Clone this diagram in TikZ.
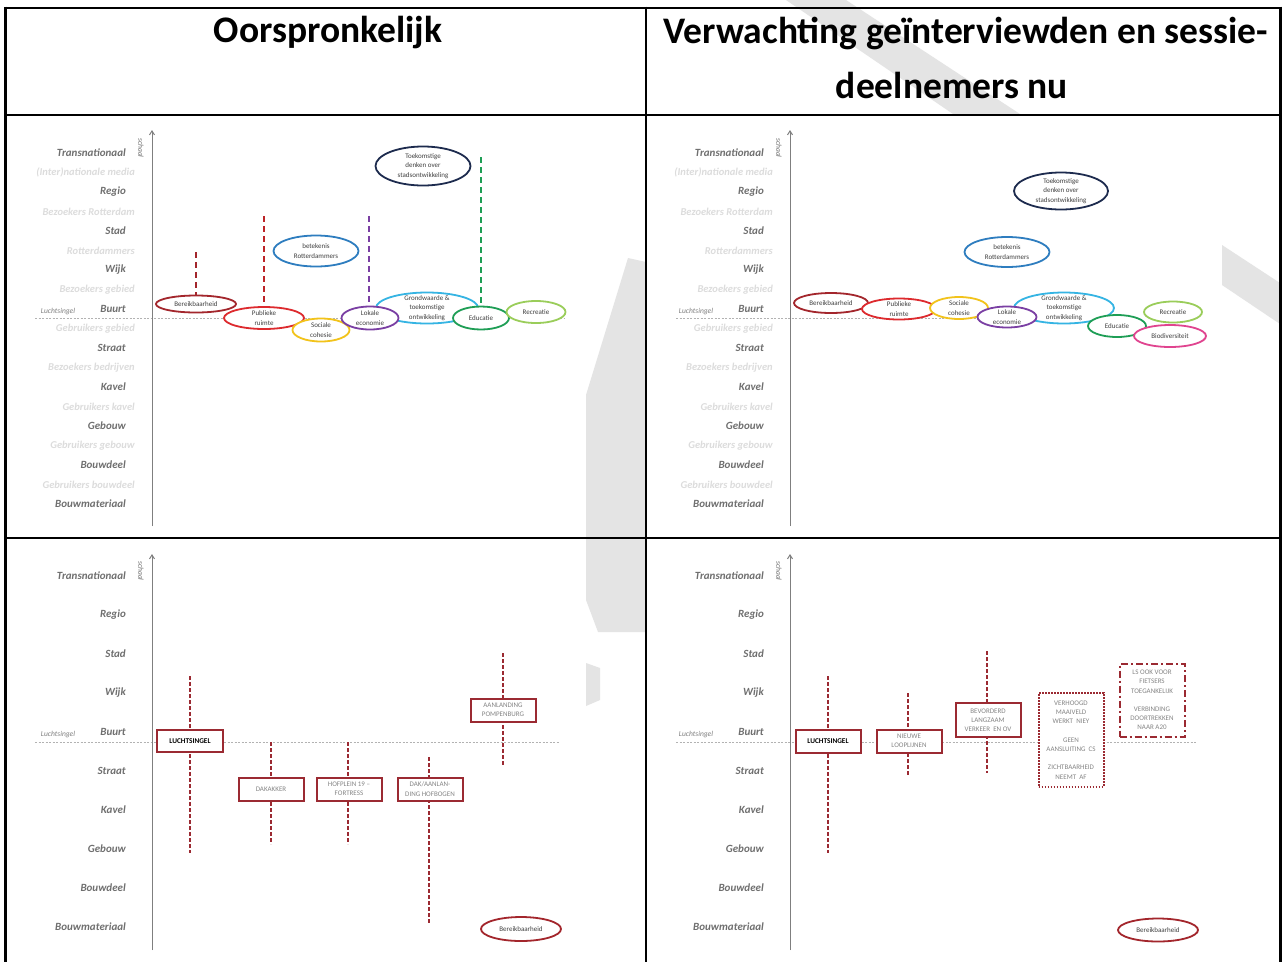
\documentclass[tikz,border=0pt]{standalone}
\usepackage{fontspec}
\setmainfont{Carlito}
\usetikzlibrary{arrows.meta}
\definecolor{lvldark}{HTML}{6F6F6F}
\definecolor{lvllight}{HTML}{DCDCDC}
\definecolor{axisgray}{HTML}{7F7F7F}
\definecolor{boxred}{HTML}{9B2A32}
\definecolor{cBereik}{HTML}{A3262C}
\definecolor{cPubliek}{HTML}{DD2A2E}
\definecolor{cSociaal}{HTML}{F2C31B}
\definecolor{cLokaal}{HTML}{7A3FA3}
\definecolor{cGrond}{HTML}{35B4E3}
\definecolor{cEduc}{HTML}{1E9E55}
\definecolor{cRecr}{HTML}{9ACD5A}
\definecolor{cBetek}{HTML}{2E7DBF}
\definecolor{cToek}{HTML}{1D2B4E}
\definecolor{cBio}{HTML}{E0448F}
\definecolor{txtgray}{HTML}{404040}
\definecolor{boxtxt}{HTML}{858585}
\definecolor{wmgray}{HTML}{E4E4E4}
\tikzset{
 tbl/.style={line width=2.6pt, black},
 hdr/.style={font=\bfseries\fontsize{37.5}{42}\selectfont, inner sep=0pt},
 lvlD/.style={anchor=east, font=\bfseries\itshape\fontsize{11}{13}\selectfont, text=lvldark, inner sep=0pt},
 lvlL/.style={anchor=east, font=\bfseries\itshape\fontsize{10.5}{12}\selectfont, text=lvllight, inner sep=0pt},
 axisline/.style={axisgray, line width=1pt, -{Straight Barb[length=4pt,width=5pt]}},
 schaal/.style={rotate=-90, font=\itshape\fontsize{7.5}{8}\selectfont, text=lvldark, inner sep=0pt},
 lsl/.style={font=\itshape\fontsize{7.5}{9}\selectfont, text=axisgray, inner sep=0pt},
 hline/.style={gray!60, line width=0.7pt, dash pattern=on 2pt off 1.5pt},
 etext/.style={font=\fontsize{7}{9.5}\selectfont, text=txtgray, align=center, inner sep=0pt},
 ell/.style={line width=1.8pt},
 vdash/.style={line width=2pt, dash pattern=on 6pt off 4pt},
 bvdash/.style={boxred, line width=1.4pt, dash pattern=on 3.5pt off 2.5pt},
 rbox/.style={draw=boxred, line width=2pt, fill=white, minimum width=65pt, minimum height=23pt, inner sep=1pt, align=center, font=\fontsize{7}{9.2}\selectfont, text=boxtxt},
 lsbox/.style={rbox, text=black, font=\bfseries\fontsize{7.3}{9}\selectfont},
 wm/.style={fill=wmgray, draw=none},
}
\newcommand\ovalnode[7]{%
 \coordinate (#1) at (#2,#3);
 \draw[ell,draw=#6,fill=white] (#1) ellipse [x radius=#4pt, y radius=#5pt];
 \node[etext] (#1t) at (#1) {#7};}
\newcommand\levelsTop[2]{%
 \foreach \t [count=\i from 0] in {Transnationaal,Regio,Stad,Wijk,Buurt,Straat,Kavel,Gebouw,Bouwdeel,Bouwmateriaal}
   {\node[lvlD] (#1d\i) at (#2+126,153+39*\i) {\t};}
 \foreach \t [count=\i from 0] in {{(Inter)nationale media},{Bezoekers Rotterdam},Rotterdammers,{Bezoekers gebied},{Gebruikers gebied},{Bezoekers bedrijven},{Gebruikers kavel},{Gebruikers gebouw},{Gebruikers bouwdeel}}
   {\node[lvlL] (#1l\i) at (#2+135,172.5+39*\i) {\t};}
 \coordinate (#1ax0) at (#2+152,526);
 \coordinate (#1ax1) at (#2+152,130);
 \draw[axisline] (#1ax0) -- (#1ax1);
 \node[schaal] (#1sch) at (#2+141,148) {schaal};
 \node[lsl] (#1ls) at (#2+58,312) {Luchtsingel};
}
\newcommand\levelsBot[2]{%
 \foreach \t [count=\i from 0] in {Transnationaal,Regio,Stad,Wijk,Buurt,Straat,Kavel,Gebouw,Bouwdeel,Bouwmateriaal}
   {\node[lvlD] (#1d\i) at (#2+126,576+39*\i) {\t};}
 \coordinate (#1ax0) at (#2+152,950);
 \coordinate (#1ax1) at (#2+152,554);
 \draw[axisline] (#1ax0) -- (#1ax1);
 \node[schaal] (#1sch) at (#2+141,571) {schaal};
 \node[lsl] (#1ls) at (#2+58,735) {Luchtsingel};
}
\begin{document}
\begin{tikzpicture}[x=1pt,y=-1pt]
\useasboundingbox (0,0) rectangle (1284,962);
\fill[white] (0,0) rectangle (1284,962);
% faint watermark, visible in the gaps round the panels
\fill[wm] (786,0) -- (846,0) -- (1020,114) -- (953,114) -- cycle;
\fill[wm] (1222,245) -- (1280,283) -- (1280,324) -- (1222,285) -- cycle;
\fill[wm] (628,258) -- (646,262) -- (646,632) -- (598,632) -- (586,600) -- (586,395) -- cycle;
\fill[wm] (586,663) -- (600,668) -- (600,700) -- (586,706) -- cycle;
% table
\draw[tbl] (4,8) -- (1282,8);
\draw[tbl] (4,115) -- (1282,115);
\draw[tbl] (4,538) -- (1282,538);
\draw[tbl] (5.3,6.7) -- (5.3,962);
\draw[tbl] (646,6.7) -- (646,962);
\draw[tbl] (1280.7,6.7) -- (1280.7,962);
\node[hdr] (h1) at (328,33) {Oorspronkelijk};
\node[hdr] (h2a) at (966,33) {Verwachting geïnterviewden en sessie-};
\node[hdr] (h2b) at (952,85) {deelnemers nu};
% panel backgrounds (opaque, hide the watermark)
\fill[white] (12,120) rectangle (580,535);
\fill[white] (652,120) rectangle (1220,535);
\fill[white] (12,542) rectangle (580,960);
\fill[white] (652,542) rectangle (1276,960);

% ===== top-left =====
\coordinate (a-h0) at (35,318); \coordinate (a-h1) at (565,318);
\draw[hline] (a-h0) -- (a-h1);
\levelsTop{a-}{0}
\coordinate (a-v1) at (196,252);
\coordinate (a-v2) at (264,216);
\coordinate (a-v3) at (369,216);
\coordinate (a-v4) at (481,157);
\coordinate (a-v1e) at (196,300);
\coordinate (a-v2e) at (264,310);
\coordinate (a-v3e) at (369,310);
\coordinate (a-v4e) at (481,310);
\draw[vdash,cBereik] (a-v1) -- (a-v1e);
\draw[vdash,cPubliek!85!black] (a-v2) -- (a-v2e);
\draw[vdash,cLokaal] (a-v3) -- (a-v3e);
\draw[vdash,cEduc] (a-v4) -- (a-v4e);
\ovalnode{a-bk}{196}{304}{40}{8.5}{cBereik}{Bereikbaarheid}
\ovalnode{a-pr}{264}{318}{40}{11}{cPubliek}{Publieke\\ruimte}
\ovalnode{a-sc}{321}{330}{28.5}{11.5}{cSociaal}{Sociale\\cohesie}
\ovalnode{a-gw}{427}{308}{51}{15.5}{cGrond}{Grondwaarde \&\\toekomstige\\ontwikkeling}
\ovalnode{a-le}{370}{318}{28.5}{11.5}{cLokaal}{Lokale\\economie}
\ovalnode{a-ed}{481}{318}{28}{11.5}{cEduc}{Educatie}
\ovalnode{a-re}{536}{312}{29.5}{11}{cRecr}{Recreatie}
\ovalnode{a-bt}{316}{251}{42.5}{15.5}{cBetek}{betekenis\\Rotterdammers}
\ovalnode{a-tk}{423}{166}{47.5}{19.5}{cToek}{Toekomstige\\denken over\\stadsontwikkeling}

% ===== top-right =====
\coordinate (b-h0) at (676,318); \coordinate (b-h1) at (1140,318);
\draw[hline] (b-h0) -- (b-h1);
\levelsTop{b-}{638}
\ovalnode{b-bk}{831}{303}{37}{10}{cBereik}{Bereikbaarheid}
\ovalnode{b-pr}{899}{309}{37}{10.5}{cPubliek}{Publieke\\ruimte}
\ovalnode{b-sc}{959}{308}{29}{11}{cSociaal}{Sociale\\cohesie}
\ovalnode{b-gw}{1064}{308}{50}{15.5}{cGrond}{Grondwaarde \&\\toekomstige\\ontwikkeling}
\ovalnode{b-le}{1007}{317}{29.5}{10.5}{cLokaal}{Lokale\\economie}
\ovalnode{b-ed}{1117}{326}{29}{11}{cEduc}{Educatie}
\ovalnode{b-re}{1173}{312}{29}{10.5}{cRecr}{Recreatie}
\ovalnode{b-bio}{1170}{336}{36}{11}{cBio}{Biodiversiteit}
\ovalnode{b-bt}{1007}{252}{42.5}{15}{cBetek}{betekenis\\Rotterdammers}
\ovalnode{b-tk}{1061}{191}{47}{18.5}{cToek}{Toekomstige\\denken over\\stadsontwikkeling}

% ===== bottom-left =====
\coordinate (c-h0) at (35,742); \coordinate (c-h1) at (560,742);
\draw[hline] (c-h0) -- (c-h1);
\levelsBot{c-}{0}
\coordinate (c-v1a) at (190,676); \coordinate (c-v1b) at (190,853);
\coordinate (c-v2a) at (271,742); \coordinate (c-v2b) at (271,844);
\coordinate (c-v3a) at (348,742); \coordinate (c-v3b) at (348,844);
\coordinate (c-v4a) at (429,757); \coordinate (c-v4b) at (429,923);
\coordinate (c-v5a) at (503,653); \coordinate (c-v5b) at (503,765);
\foreach \k in {1,...,5} {\draw[bvdash] (c-v\k a) -- (c-v\k b);}
\node[lsbox, minimum width=66pt, minimum height=22pt] (c-ls) at (190,741) {LUCHTSINGEL};
\node[rbox] (c-dk) at (271,789) {DAKAKKER};
\node[rbox] (c-hp) at (349,789) {HOFPLEIN 19 –\\FORTRESS};
\node[rbox] (c-dh) at (430,789) {DAK/AANLAN-\\DING HOFBOGEN};
\node[rbox] (c-ap) at (503,710) {AANLANDING\\POMPENBURG};
\ovalnode{c-bk}{521}{929}{40}{12}{cBereik}{Bereikbaarheid}

% ===== bottom-right =====
\coordinate (d-h0) at (676,742); \coordinate (d-h1) at (1197,742);
\draw[hline] (d-h0) -- (d-h1);
\levelsBot{d-}{638}
\coordinate (d-v1a) at (828,676); \coordinate (d-v1b) at (828,853);
\coordinate (d-v2a) at (908,693); \coordinate (d-v2b) at (908,776);
\coordinate (d-v3a) at (987,651); \coordinate (d-v3b) at (987,773);
\foreach \k in {1,2,3} {\draw[bvdash] (d-v\k a) -- (d-v\k b);}
\node[lsbox] (d-ls) at (828,741) {LUCHTSINGEL};
\node[rbox] (d-nl) at (909,741) {NIEUWE\\LOOPLIJNEN};
\node[rbox, minimum height=34pt] (d-bv) at (988,720) {BEVORDERD\\LANGZAAM\\VERKEER~ EN OV};
\node[rbox, minimum height=94pt, dash pattern=on 1.6pt off 1.4pt] (d-vm) at (1071,740) {VERHOOGD\\MAAIVELD\\WERKT~ NIEY\\[9.2pt]GEEN\\AANSLUITING~ CS\\[9.2pt]ZICHTBAARHEID\\NEEMT~ AF};
\node[rbox, minimum height=73pt, dash pattern=on 7pt off 3pt on 2pt off 3pt] (d-lsv) at (1152,700) {LS OOK VOOR\\FIETSERS\\TOEGANKELIJK\\[9.2pt]VERBINDING\\DOORTREKKEN\\NAAR A20};
\ovalnode{d-bk}{1158}{930}{40}{11.5}{cBereik}{Bereikbaarheid}
\end{tikzpicture}
\end{document}
